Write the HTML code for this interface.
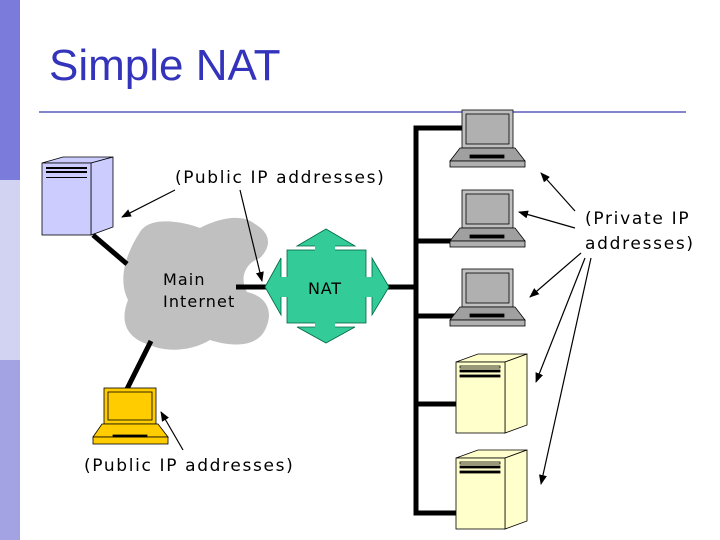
<!DOCTYPE html>
<html><head><style>
body{margin:0;width:720px;height:540px;overflow:hidden;background:#fff}
svg{display:block}
text{font-family:"DejaVu Sans",Verdana,sans-serif}
</style></head><body>
<svg width="720" height="540" viewBox="0 0 720 540" xmlns="http://www.w3.org/2000/svg">
<defs><marker id="a" markerWidth="10" markerHeight="8" refX="9" refY="4" orient="auto" markerUnits="userSpaceOnUse"><path d="M0,0 L10,4 L0,8 Z" fill="#000"/></marker></defs>
<rect x="0" y="0" width="20" height="180" fill="#7b7bdb"/>
<rect x="0" y="180" width="20" height="180" fill="#d2d2f2"/>
<rect x="0" y="360" width="20" height="180" fill="#a3a3e3"/>
<text x="49" y="80" style="font-family:'Liberation Sans',Arial,sans-serif" font-size="44" fill="#3333bb">Simple NAT</text>
<rect x="39" y="111" width="647" height="2" fill="#8585cc"/>

<path d="M140,232 C150,215 185,222 200,228 C215,220 240,212 255,224 C275,236 268,250 260,258 C248,262 238,275 247,292 C265,296 275,310 265,330 C255,350 225,345 210,340 C190,352 165,352 150,345 C125,338 120,320 128,300 C118,280 125,255 140,232 Z" fill="#c0c0c0"/>

<g stroke="#000" stroke-width="5" fill="none">
<line x1="93" y1="235" x2="127" y2="264"/>
<line x1="151" y1="341" x2="127" y2="389"/>
<line x1="236" y1="287" x2="266" y2="287"/>
<line x1="388" y1="287" x2="416" y2="287"/>
<polyline points="462,128 416,128 416,513 462,513"/>
<line x1="416" y1="241" x2="462" y2="241"/>
<line x1="416" y1="316" x2="462" y2="316"/>
<line x1="416" y1="404" x2="456" y2="404"/>
</g>

<g stroke="#000" stroke-width="0.8">
<polygon points="42,163 63,157 113,157 91,163" fill="#ccccff"/>
<polygon points="91,163 113,157 113,227 91,235" fill="#ccccff"/>
<rect x="42" y="163" width="49" height="72" fill="#ccccff"/>
</g>
<g fill="#000"><rect x="46" y="167" width="41" height="2"/><rect x="46" y="171" width="41" height="2"/><rect x="46" y="177" width="41" height="1"/></g>

<g fill="#33cc99" stroke="#006644" stroke-width="0.8">
<polygon points="326,229 355,246 297,246"/>
<polygon points="326,343 355,327 297,327"/>
<polygon points="265,287 281,258 281,315"/>
<polygon points="389,287 372,258 372,315"/>
<rect x="287" y="250" width="79" height="73"/>
</g>
<g fill="#33cc99"><rect x="315" y="244" width="20" height="8"/><rect x="315" y="321" width="20" height="8"/><rect x="279" y="277" width="10" height="20"/><rect x="364" y="277" width="10" height="20"/></g>
<text x="308" y="294" font-size="16" letter-spacing="0.8" fill="#000">NAT</text>
<text x="163" y="285" font-size="16" letter-spacing="1.1">Main</text>
<text x="163" y="307" font-size="16" letter-spacing="1.1">Internet</text>

<g id="lap" stroke="#000" stroke-width="0.8">
<rect x="462" y="110" width="51" height="38" fill="#c0c0c0"/>
<rect x="466" y="114" width="43" height="30" fill="#b0b0b0"/>
<polygon points="460,148 515,148 525,161 450,161" fill="#a0a0a0"/>
<rect x="450" y="161" width="75" height="6" fill="#b0b0b0"/>
<rect x="470" y="155" width="34" height="3" fill="#000"/>
</g>
<use href="#lap" y="80"/>
<use href="#lap" y="159"/>

<g stroke="#000" stroke-width="0.8">
<rect x="104" y="388" width="52" height="36" fill="#ffcc00"/>
<rect x="108" y="392" width="44" height="28" fill="#ffcc00"/>
<polygon points="102,424 158,424 168,437 93,437" fill="#ffcc00"/>
<rect x="93" y="437" width="75" height="7" fill="#ffcc00"/>
<rect x="113" y="435" width="34" height="2" fill="#000"/>
</g>

<g id="srv" stroke="#000" stroke-width="0.8">
<polygon points="456,362 478,354 527,354 505,362" fill="#ffffcc"/>
<polygon points="505,362 527,354 527,425 505,433" fill="#ffffcc"/>
<rect x="456" y="362" width="49" height="71" fill="#ffffcc"/>
<rect x="460" y="366" width="40" height="2" fill="#ffffcc"/>
<rect x="460" y="370" width="40" height="2" fill="#000"/>
<rect x="460" y="375" width="40" height="2" fill="#000"/>
</g>
<use href="#srv" y="96"/>

<text x="175" y="183" font-size="17" letter-spacing="1.65">(Public IP addresses)</text>
<text x="84" y="471" font-size="17" letter-spacing="1.65">(Public IP addresses)</text>
<text x="585" y="224" font-size="17" letter-spacing="1.7">(Private IP</text>
<text x="585" y="249" font-size="17" letter-spacing="1.7">addresses)</text>

<g stroke="#000" stroke-width="1.2" marker-end="url(#a)">
<line x1="175" y1="190" x2="122" y2="217"/>
<line x1="240" y1="190" x2="262" y2="281"/>
<line x1="183" y1="450" x2="161" y2="412"/>
<line x1="575" y1="211" x2="541" y2="173"/>
<line x1="575" y1="228" x2="519" y2="212"/>
<line x1="581" y1="253" x2="530" y2="297"/>
<line x1="585" y1="258" x2="536" y2="382"/>
<line x1="591" y1="258" x2="541" y2="484"/>
</g>
</svg>
</body></html>
